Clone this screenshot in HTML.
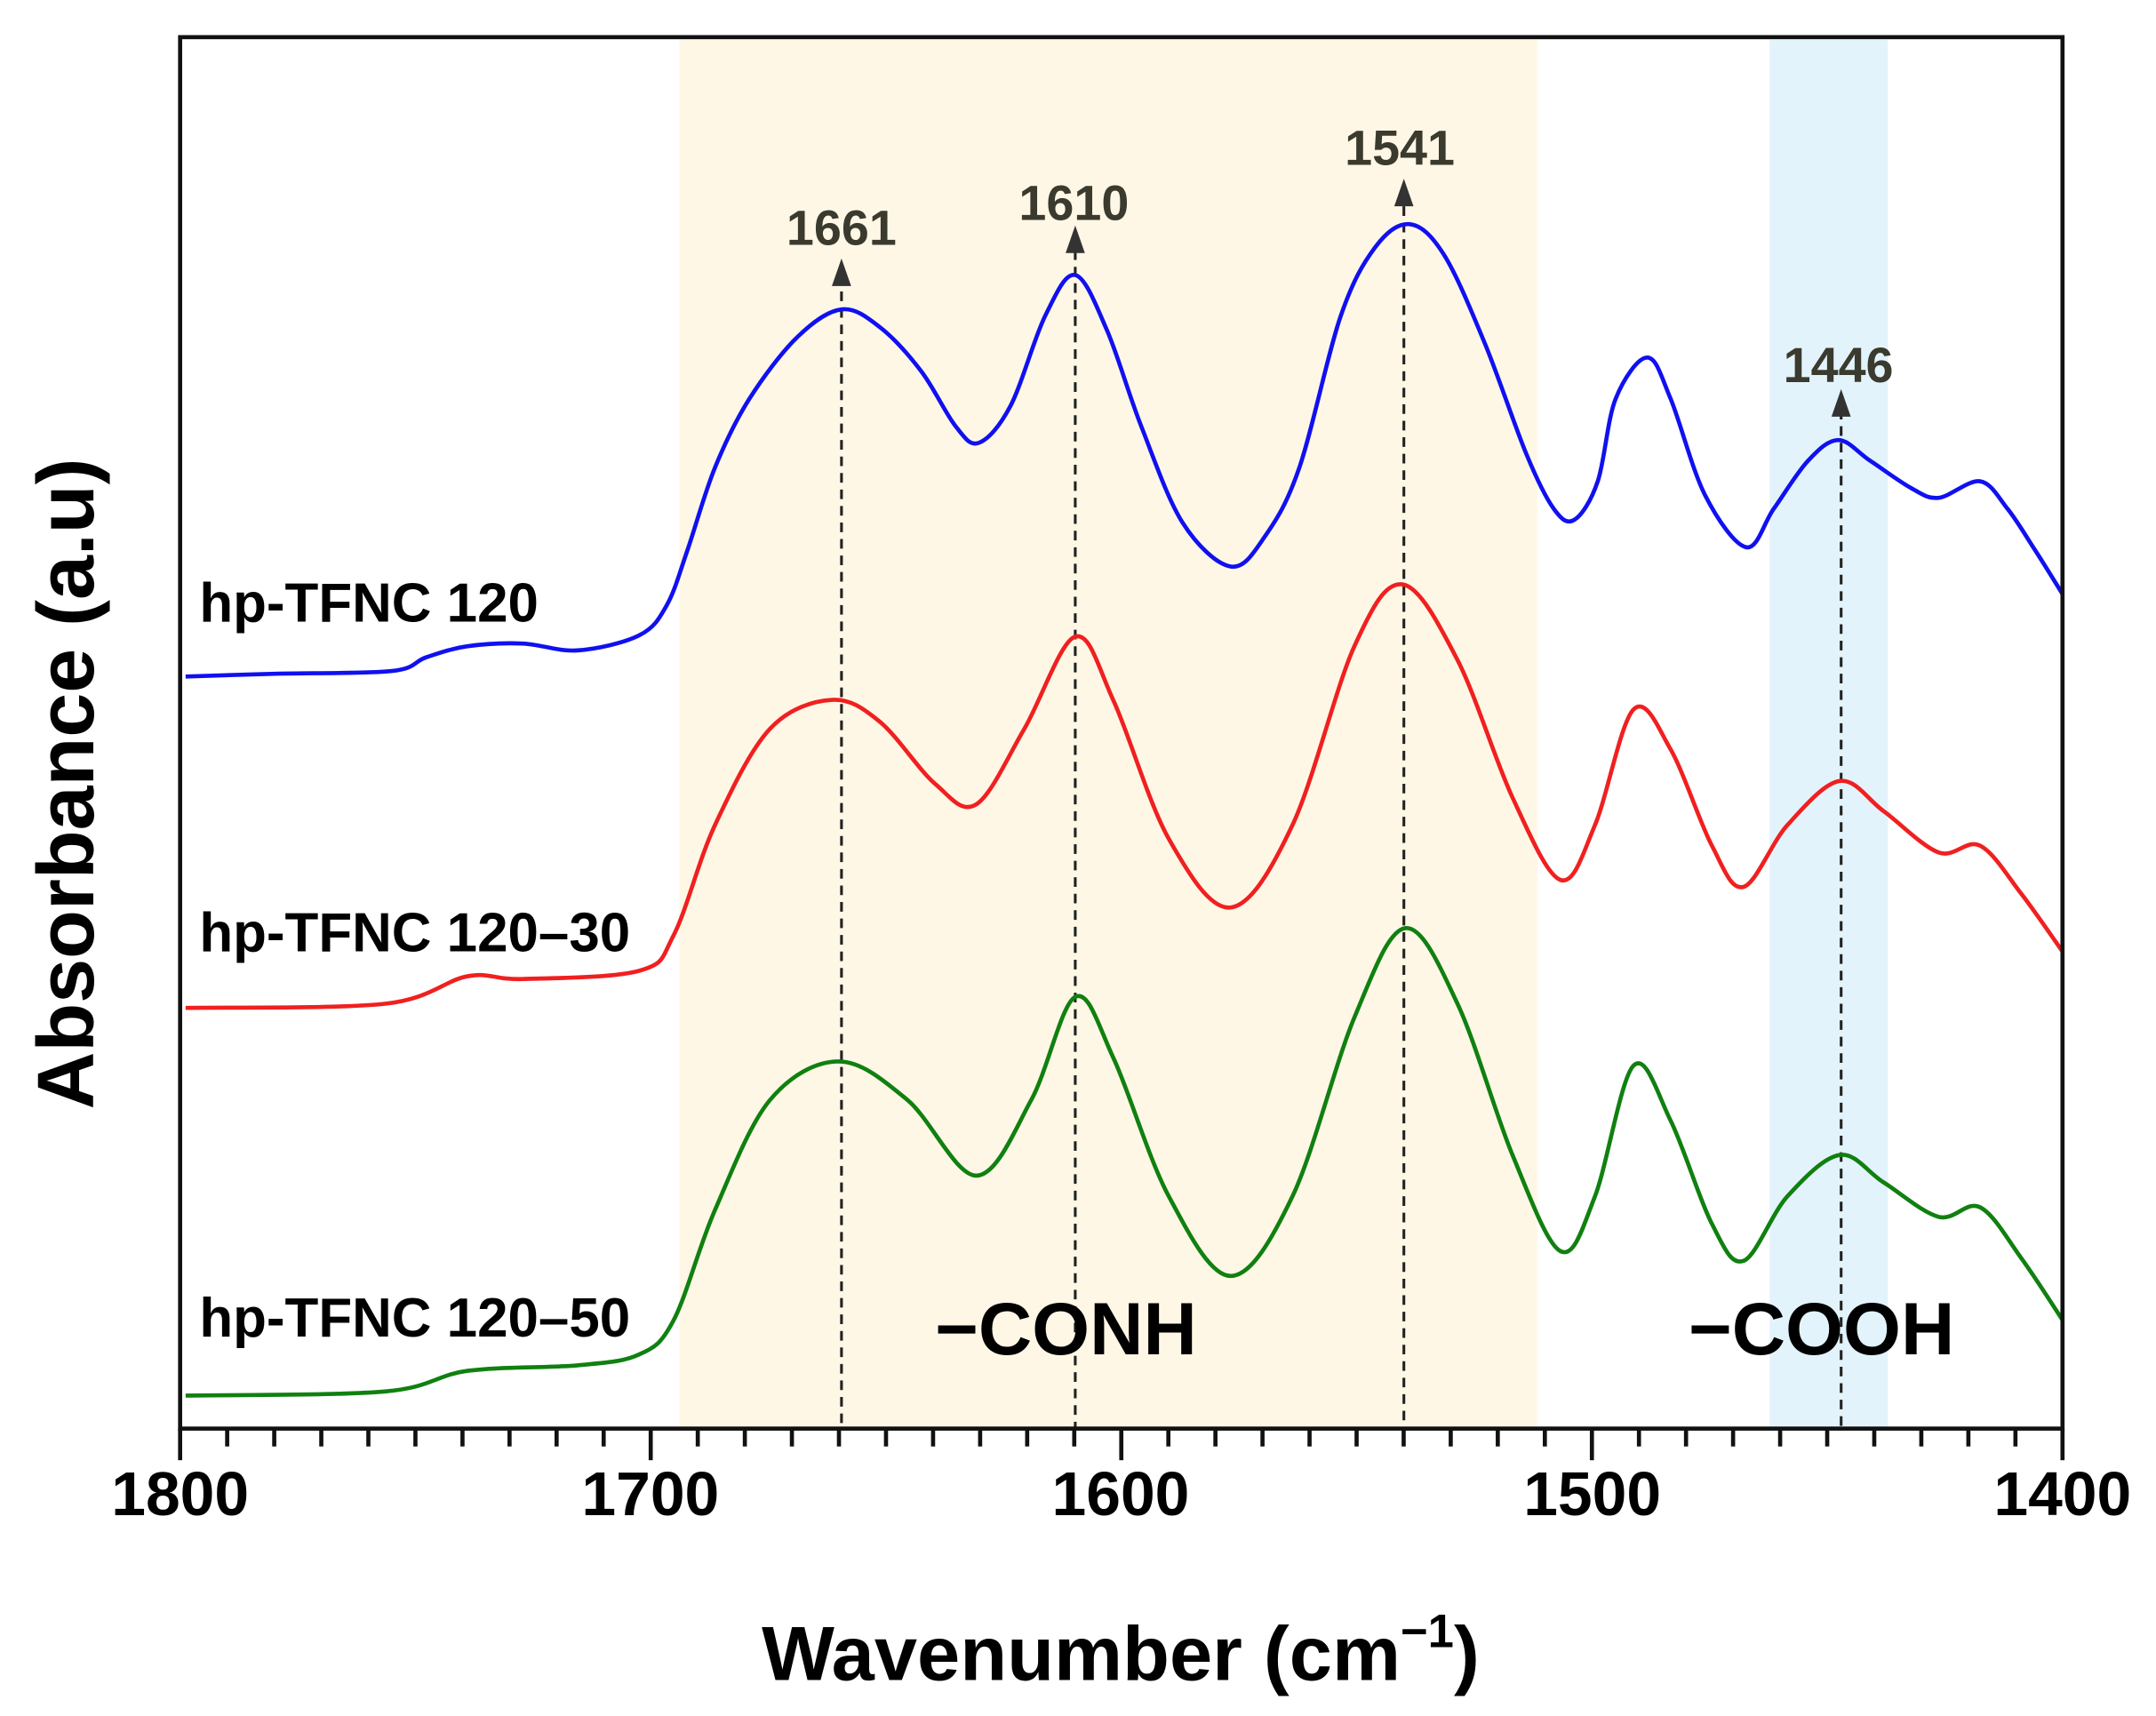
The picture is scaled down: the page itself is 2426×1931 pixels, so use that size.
<!DOCTYPE html>
<html><head><meta charset="utf-8"><style>
html,body{margin:0;padding:0;background:#fff;}
svg{display:block;}
text{font-family:"Liberation Sans",sans-serif;font-weight:bold;}
</style></head><body>
<svg id="s" width="2426" height="1931" viewBox="0 0 1568 1248" xmlns="http://www.w3.org/2000/svg">
<rect x="0" y="0" width="1568" height="1248" fill="#fff"/>
<rect x="494" y="29" width="624" height="1010" fill="#fff7e6"/>
<rect x="1287" y="29" width="86" height="1010" fill="#e3f3fb"/>
<g stroke="#222" stroke-width="2" stroke-dasharray="7,5" fill="none">
<line x1="612" y1="200" x2="612" y2="1038"/>
<line x1="782" y1="182" x2="782" y2="1038"/>
<line x1="1021" y1="150" x2="1021" y2="1038"/>
<line x1="1339" y1="298" x2="1339" y2="1038"/>
</g>
<g fill="#333">
<polygon points="612,188 605,208 619,208"/>
<polygon points="782,164 775,184 789,184"/>
<polygon points="1021,130 1014,150 1028,150"/>
<polygon points="1339,283 1332,303 1346,303"/>
</g>
<g font-size="36" fill="#3a3a2e" text-anchor="middle">
<text x="612" y="178">1661</text>
<text x="781" y="160">1610</text>
<text x="1018" y="120">1541</text>
<text x="1337" y="278">1446</text>
</g>
<g id="curves" fill="none" stroke-width="3" stroke-linejoin="round"></g>
<rect x="131" y="27" width="1369" height="1012" fill="none" stroke="#111" stroke-width="3"/>
<g id="ticks" stroke="#111" stroke-width="3"></g>
<g font-size="45" fill="#000" text-anchor="middle">
<text x="131" y="1102">1800</text>
<text x="473" y="1102">1700</text>
<text x="815" y="1102">1600</text>
<text x="1158" y="1102">1500</text>
<text x="1500" y="1102">1400</text>
</g>
<text x="815" y="1222" font-size="56" text-anchor="middle">Wavenumber (cm<tspan font-size="34" dy="-24">−1</tspan><tspan dy="24">)</tspan></text>
<text transform="translate(68,570) rotate(-90)" font-size="58" text-anchor="middle">Absorbance (a.u)</text>
<g font-size="40" fill="#000">
<text x="145" y="452">hp-TFNC 120</text>
<text x="145" y="692">hp-TFNC 120–30</text>
<text x="145" y="972">hp-TFNC 120–50</text>
</g>
<g font-size="54" fill="#000">
<text x="680" y="985">−CONH</text>
<text x="1228" y="985">−COOH</text>
</g>
</svg>
<script>
var ns="http://www.w3.org/2000/svg";
function path(p){var d="M"+p[0][0]+","+p[0][1];for(var i=0;i<p.length-1;i++){var p0=p[i-1]||p[i],p1=p[i],p2=p[i+1],p3=p[i+2]||p2;
var c1x=p1[0]+(p2[0]-p0[0])/6,c1y=p1[1]+(p2[1]-p0[1])/6,c2x=p2[0]-(p3[0]-p1[0])/6,c2y=p2[1]-(p3[1]-p1[1])/6;
d+=" C"+c1x.toFixed(1)+","+c1y.toFixed(1)+" "+c2x.toFixed(1)+","+c2y.toFixed(1)+" "+p2[0]+","+p2[1];}return d;}
var blue=[[135,492],[200,490],[285,488],[310,478],[340,470],[380,468],[420,473],[465,462],[485,440],[500,400],[520,340],[545,290],[580,245],[612,225],[640,238],[670,270],[695,310],[712,322],[735,295],[760,230],[782,200],[805,240],[830,310],[860,380],[895,412],[920,390],[945,340],[975,230],[1000,180],[1025,163],[1050,185],[1080,250],[1110,330],[1130,370],[1145,378],[1162,350],[1175,290],[1198,260],[1215,290],[1240,360],[1270,398],[1290,370],[1315,335],[1337,320],[1360,335],[1390,355],[1410,362],[1440,350],[1460,370],[1480,400],[1500,432]];
var red=[[135,733],[280,730],[340,710],[380,712],[465,706],[490,680],[520,600],[560,530],[605,509],[640,525],[680,570],[710,585],[745,530],[782,463],[810,510],[850,610],[895,660],[940,600],[985,470],[1020,425],[1060,480],[1100,580],[1135,640],[1160,600],[1188,516],[1215,545],[1245,615],[1268,645],[1300,600],[1338,568],[1370,590],[1410,620],[1440,615],[1470,650],[1500,692]];
var green=[[135,1015],[280,1012],[340,997],[420,993],[465,985],[490,960],[520,880],[560,800],[610,772],[660,800],[710,855],[750,800],[782,725],[810,770],[850,870],[895,928],[940,870],[985,740],[1022,675],[1060,730],[1100,840],[1135,910],[1160,870],[1188,775],[1215,815],[1245,890],[1268,917],[1300,870],[1338,840],[1370,860],[1410,885],[1440,878],[1470,915],[1500,960]];
var g=document.getElementById("curves");
[[blue,"#1010f0"],[red,"#f02020"],[green,"#108010"]].forEach(function(c){var e=document.createElementNS(ns,"path");e.setAttribute("d",path(c[0]));e.setAttribute("stroke",c[1]);g.appendChild(e);});
var t=document.getElementById("ticks");
for(var i=0;i<=40;i++){var x=131+i*1369/40;var l=document.createElementNS(ns,"line");l.setAttribute("x1",x);l.setAttribute("x2",x);l.setAttribute("y1",1039);l.setAttribute("y2",i%10==0?1062:1052);t.appendChild(l);}
</script>
</body></html>
